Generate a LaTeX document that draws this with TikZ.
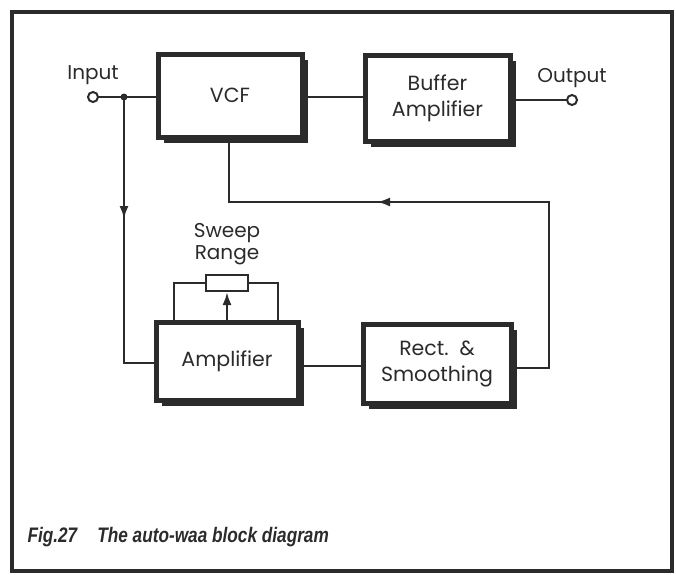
\documentclass[tikz,border=0pt]{standalone}
\usepackage{fontspec}
\setmainfont{Poppins}
\newfontfamily\capfont[FakeStretch=0.82]{Liberation Sans}
\usetikzlibrary{arrows.meta,shadows,calc}
\definecolor{ink}{HTML}{2B2B2B}
\begin{document}
\begin{tikzpicture}[x=1pt,y=-1pt,
  blk/.style={draw=ink, line width=5pt, fill=white, align=center,
    font=\fontsize{20.5}{26}\selectfont, text=ink,
    drop shadow={shadow xshift=6pt, shadow yshift=-6pt, fill=ink, opacity=1}},
  wire/.style={draw=ink, line width=2.2pt},
  term/.style={circle, draw=ink, line width=2pt, fill=white, inner sep=0pt, minimum size=10pt},
  lbl/.style={font=\fontsize{20}{24}\selectfont, text=ink, align=center},
  tip/.style={-{Latex[length=13pt,width=9pt]}}
]
\useasboundingbox (0,0) rectangle (676,574);
\draw[ink, line width=4pt] (12,12) rectangle (672,571);

\node[blk, minimum width=144pt, minimum height=83pt] (vcf) at (230,95.5) {VCF};
\node[blk, minimum width=145pt, minimum height=86pt] (buf) at (437.5,98) {Buffer\\Amplifier};
\node[blk, minimum width=142pt, minimum height=78pt] (amp) at (227,361) {Amplifier};
\node[blk, minimum width=148pt, minimum height=79pt] (rect) at (437,363.5) {Rect.\ \ \&\\Smoothing};

% input
\node[term] (in) at (93,97) {};
\node[lbl, anchor=south] (inl) at (93,88) {Input};
\coordinate (j) at (124,97);
\draw[wire] (in) -- (in -| vcf.west);
\fill[ink] (j) circle (3.5pt);
\coordinate (jb) at (124,363);
\draw[wire] (j) -- (jb) -- (jb -| amp.west);
\draw[wire, tip] (j) -- (124,219);

% VCF -> buffer -> output
\draw[wire] (vcf.east |- 0,97) -- (buf.west |- 0,97);
\node[term] (out) at (572,100) {};
\node[lbl, anchor=south] (outl) at (572,91) {Output};
\draw[wire] (buf.east |- out) -- (out);

% amp -> rect
\draw[wire] (amp.east |- 0,366) -- (rect.west |- 0,366);

% feedback
\coordinate (fa) at (229,202);
\coordinate (fb) at (549,202);
\coordinate (fc) at (549,368);
\draw[wire] (rect.east |- fc) -- (fc) -- (fb) -- (fa) -- (fa |- vcf.south);
\draw[wire, tip] (fb) -- (377,202);

% sweep range pot
\node[draw=ink, line width=2pt, fill=white, minimum width=42pt, minimum height=16pt, inner sep=0pt] (pot) at (227,283) {};
\node[lbl] (swl) at (227,244) {Sweep\\[-2pt]Range};
\coordinate (pl) at (174,283);
\coordinate (pr) at (278,283);
\draw[wire] (pot.west) -- (pl) -- (pl |- amp.north);
\draw[wire] (pot.east) -- (pr) -- (pr |- amp.north);
\draw[wire, tip] (pot.south |- amp.north) -- (pot.south);

% caption
\node[anchor=base west, font=\capfont\bfseries\itshape\fontsize{21}{24}\selectfont, text=ink] (cap) at (24,542) {Fig.27\hspace{20pt}The auto-waa block diagram};
\end{tikzpicture}
\end{document}
